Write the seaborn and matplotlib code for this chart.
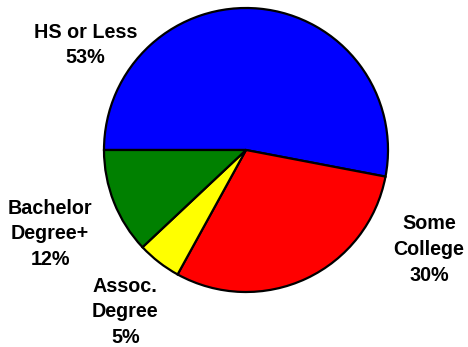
import matplotlib
matplotlib.use("Agg")
import matplotlib.pyplot as plt
import seaborn as sns

sns.set_theme(style="white")
plt.rcParams['font.family'] = ['Liberation Sans', 'DejaVu Sans']

categories = ["HS or Less", "Some College", "Assoc. Degree", "Bachelor Degree+"]
label_text = ["HS or Less\n53%", "Some\nCollege\n30%", "Assoc.\nDegree\n5%", "Bachelor\nDegree+\n12%"]
shares = [53, 30, 5, 12]
colors = ["#0000FF", "#FF0000", "#FFFF00", "#008000"]
# label centres, in units of pie radius
label_pos = [(-1.13, 0.74), (1.29, -0.70), (-0.85, -1.14), (-1.38, -0.59)]

fig = plt.figure(figsize=(4.68, 3.47), dpi=100)
ax = fig.add_axes([0, 0, 1, 1])

ax.pie(shares, colors=colors, startangle=180, counterclock=False,
       radius=1.0, wedgeprops=dict(edgecolor="black", linewidth=1.6))

for txt, (x, y) in zip(label_text, label_pos):
    ax.text(x, y, txt, ha="center", va="center", fontsize=14.2,
            fontweight="bold", color="black", linespacing=1.45)

ax.set_aspect("auto")
ax.set_xlim(-246 / 142, (468 - 246) / 142)
ax.set_ylim(-(347 - 150) / 142, 150 / 142)
ax.axis("off")

fig.savefig("out.png", dpi=100, facecolor="white")
